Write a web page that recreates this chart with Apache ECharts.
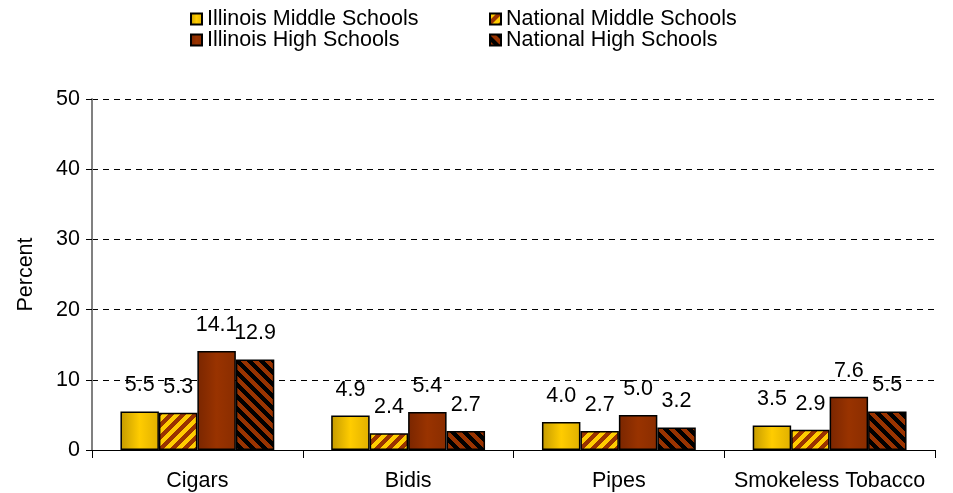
<!DOCTYPE html>
<html>
<head>
<meta charset="utf-8">
<script src="https://cdn.jsdelivr.net/npm/echarts@6/dist/echarts.min.js"></script>
<style>
  html, body { margin: 0; padding: 0; background: #fff; }
  #chart { width: 953px; height: 493px; }
</style>
</head>
<body>
<div id="chart"></div>
<script>
const categories = ["Cigars", "Bidis", "Pipes", "Smokeless Tobacco"];
const seriesNames = ["Illinois Middle Schools", "National Middle Schools", "Illinois High Schools", "National High Schools"];
const ilMiddle = [5.5, 4.9, 4.0, 3.5];
const natMiddle = [5.3, 2.4, 2.7, 2.9];
const ilHigh = [14.1, 5.4, 5.0, 7.6];
const natHigh = [12.9, 2.7, 3.2, 5.5];

const FONT = "Liberation Sans, Arial, sans-serif";
const FS = 21.5;

// striped tile used as fill pattern
function stripes(a, b, dir) {
  const p = 12;
  const c = document.createElement("canvas");
  c.width = p; c.height = p;
  const ctx = c.getContext("2d");
  for (let x = 0; x < p; x++) {
    for (let y = 0; y < p; y++) {
      const k = dir > 0 ? (x + y) % p : ((x - y) % p + p) % p;
      ctx.fillStyle = k < p / 2 ? a : b;
      ctx.fillRect(x, y, 1, 1);
    }
  }
  return { image: c, repeat: "repeat" };
}

const gold = new echarts.graphic.LinearGradient(0, 0, 1, 0, [
  { offset: 0, color: "#c49a00" },
  { offset: 0.5, color: "#ffcc00" },
  { offset: 1, color: "#e0b000" }
]);
const brown = new echarts.graphic.LinearGradient(0, 0, 1, 0, [
  { offset: 0, color: "#7a2600" },
  { offset: 0.5, color: "#993300" },
  { offset: 1, color: "#8a2d00" }
]);

const colors = [gold, stripes("#ffcc00", "#993300", 1), brown, stripes("#993300", "#000000", -1)];
const values = [ilMiddle, natMiddle, ilHigh, natHigh];

const chart = echarts.init(document.getElementById("chart"));

chart.setOption({
  animation: false,
  textStyle: { fontFamily: FONT },
  legend: [
    {
      left: 185, top: 3, orient: "vertical", itemGap: -1,
      itemWidth: 11, itemHeight: 11, icon: "rect",
      textStyle: { fontSize: FS, color: "#000", fontFamily: FONT },
      data: [seriesNames[0], seriesNames[2]]
    },
    {
      left: 484, top: 3, orient: "vertical", itemGap: -1,
      itemWidth: 11, itemHeight: 11, icon: "rect",
      textStyle: { fontSize: FS, color: "#000", fontFamily: FONT },
      data: [seriesNames[1], seriesNames[3]]
    }
  ],
  grid: { left: 92, right: 18, top: 99, bottom: 43 },
  xAxis: {
    type: "category",
    data: categories,
    axisLine: { lineStyle: { color: "#000", width: 1 } },
    axisTick: { show: true, length: 8, lineStyle: { color: "#000" } },
    axisLabel: { interval: 0, fontSize: FS, color: "#000", margin: 20, fontFamily: FONT }
  },
  yAxis: {
    type: "value",
    min: 0, max: 50, interval: 10,
    name: "Percent",
    nameLocation: "middle",
    nameGap: 55,
    nameTextStyle: { fontSize: FS, color: "#000", fontFamily: FONT },
    axisLine: { show: true, lineStyle: { color: "#808080", width: 2 } },
    axisTick: { show: true, length: 6, lineStyle: { color: "#000" } },
    axisLabel: { fontSize: FS, color: "#000", margin: 12, fontFamily: FONT },
    splitLine: { lineStyle: { color: "#000", type: [6, 5], width: 1 } }
  },
  series: seriesNames.map((name, i) => ({
    name: name,
    type: "bar",
    data: values[i],
    barGap: "0%",
    barCategoryGap: "27%",
    itemStyle: { color: colors[i], borderColor: "#000", borderWidth: 1.5 },
    label: {
      show: true,
      position: "top",
      distance: 15,
      fontSize: FS,
      color: "#000",
      fontFamily: FONT,
      formatter: (p) => p.value.toFixed(1)
    }
  }))
});
</script>
</body>
</html>
